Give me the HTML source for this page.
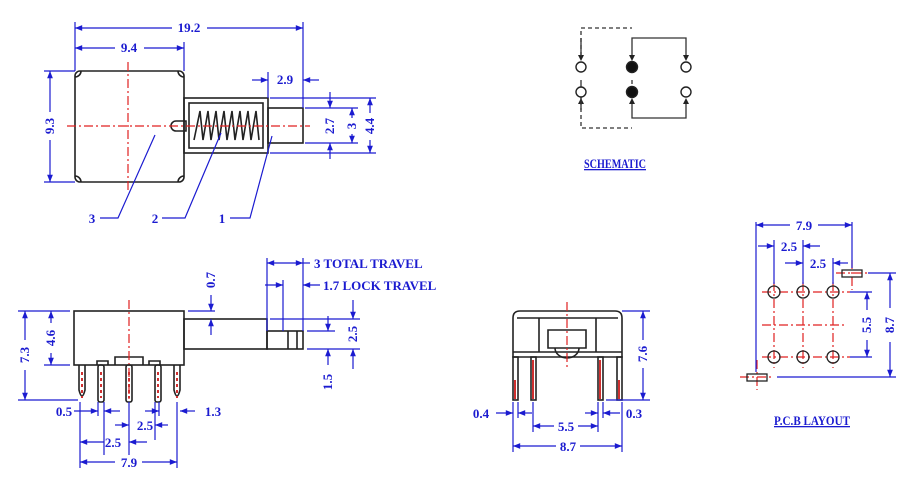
<!DOCTYPE html>
<html><head><meta charset="utf-8"><style>
body{margin:0;background:#fff}
svg{display:block}
text{font-family:"Liberation Serif",serif;font-weight:bold;fill:#1b1bd0;font-size:13px}
.b{stroke:#1b1bd0;stroke-width:1.2;fill:none}
.k{stroke:#222;stroke-width:1.6;fill:none}
.r{stroke:#e02020;stroke-width:1.2;fill:none;stroke-dasharray:9 3 2 3}
.rs{stroke:#d03030;stroke-width:2;fill:none}
</style></head><body>
<svg width="924" height="504" viewBox="0 0 924 504" xmlns="http://www.w3.org/2000/svg">
<defs>
<marker id="a" viewBox="0 0 10 10" refX="10" refY="5" markerWidth="7" markerHeight="6" orient="auto-start-reverse"><path d="M0,1 L10,5 L0,9z" fill="#1b1bd0"/></marker>
</defs>
<rect width="924" height="504" fill="#fff"/>

<!-- TOP VIEW -->
<rect x="75" y="71" width="109" height="111" rx="5" class="k"/>
<path class="k" d="M75,77 a6,6 0 0 0 6,-6 M178,71 a6,6 0 0 0 6,6 M75,176 a6,6 0 0 1 6,6 M184,176 a6,6 0 0 0 -6,6"/>
<rect x="184" y="98" width="84" height="55" class="k"/>
<rect x="189" y="103" width="74" height="45" class="k" stroke-width="1.2"/>
<rect x="268" y="108" width="35" height="35" class="k"/>
<path d="M176,121 a5,5 0 0 0 0,10 h10 v-10z" class="k" stroke-width="1.2"/>
<path class="k" stroke-width="1.4" d="M194,140 L200,111 L203,140 L208,111 L211,140 L216,111 L219,140 L224,111 L227,140 L232,111 L235,140 L240,111 L243,140 L248,111 L251,140 L256,111 L259,140"/>
<line x1="67" y1="126" x2="310" y2="126" class="r"/>
<line x1="128" y1="62" x2="128" y2="190" class="r"/>
<!-- dims -->
<line x1="75" y1="22" x2="75" y2="71" class="b"/>
<line x1="303" y1="22" x2="303" y2="108" class="b"/>
<line x1="184" y1="42" x2="184" y2="71" class="b"/>
<line x1="75" y1="28" x2="172" y2="28" class="b" marker-start="url(#a)"/>
<line x1="207" y1="28" x2="303" y2="28" class="b" marker-end="url(#a)"/>
<text x="189" y="32" text-anchor="middle">19.2</text>
<line x1="75" y1="48" x2="115" y2="48" class="b" marker-start="url(#a)"/>
<line x1="144" y1="48" x2="184" y2="48" class="b" marker-end="url(#a)"/>
<text x="129" y="52" text-anchor="middle">9.4</text>
<line x1="44" y1="71" x2="75" y2="71" class="b"/>
<line x1="44" y1="182" x2="75" y2="182" class="b"/>
<line x1="50" y1="71" x2="50" y2="112" class="b" marker-start="url(#a)"/>
<line x1="50" y1="140" x2="50" y2="182" class="b" marker-end="url(#a)"/>
<text transform="translate(54,126) rotate(-90)" text-anchor="middle">9.3</text>
<line x1="268" y1="72" x2="268" y2="98" class="b"/>
<line x1="252" y1="80" x2="268" y2="80" class="b" marker-end="url(#a)"/>
<line x1="319" y1="80" x2="303" y2="80" class="b" marker-end="url(#a)"/>
<text x="285" y="84" text-anchor="middle">2.9</text>
<line x1="270" y1="98" x2="376" y2="98" class="b"/>
<line x1="270" y1="153" x2="376" y2="153" class="b"/>
<line x1="305" y1="108" x2="358" y2="108" class="b"/>
<line x1="305" y1="143" x2="358" y2="143" class="b"/>
<line x1="330" y1="92" x2="330" y2="108" class="b" marker-end="url(#a)"/>
<line x1="330" y1="159" x2="330" y2="143" class="b" marker-end="url(#a)"/>
<text transform="translate(334,126) rotate(-90)" text-anchor="middle">2.7</text>
<line x1="352" y1="118" x2="352" y2="108" class="b" marker-end="url(#a)"/>
<line x1="352" y1="134" x2="352" y2="143" class="b" marker-end="url(#a)"/>
<text transform="translate(356,126) rotate(-90)" text-anchor="middle">3</text>
<line x1="370" y1="113" x2="370" y2="98" class="b" marker-end="url(#a)"/>
<line x1="370" y1="140" x2="370" y2="153" class="b" marker-end="url(#a)"/>
<text transform="translate(374,126) rotate(-90)" text-anchor="middle">4.4</text>
<!-- leaders -->
<path class="b" d="M155,135 L118,218 H100"/>
<path class="b" d="M221,133 L185,218 H162"/>
<path class="b" d="M272,136 L250,218 H230"/>
<text x="92" y="223" text-anchor="middle">3</text>
<text x="155" y="223" text-anchor="middle">2</text>
<text x="222" y="223" text-anchor="middle">1</text>

<!-- SCHEMATIC -->
<path d="M581,56 V28 H632 M581,80 V128 H632" stroke="#333" stroke-width="1.3" fill="none" stroke-dasharray="4 3"/>
<path d="M632,56 V38 H686 V56 M632,103 V118 H686 V103" stroke="#333" stroke-width="1.3" fill="none"/>
<path d="M581,84 V103 M632,84 V80" stroke="#333" stroke-width="1.3"/>
<g stroke="#222" stroke-width="1.4" fill="#fff">
<circle cx="581" cy="67" r="5"/><circle cx="686" cy="67" r="5"/>
<circle cx="581" cy="92" r="5"/><circle cx="686" cy="92" r="5"/>
<circle cx="632" cy="67" r="5.5" fill="#111"/><circle cx="632" cy="92" r="5.5" fill="#111"/>
</g>
<g fill="#222"><path d="M578,55 h6 l-3,6z M629,55 h6 l-3,6z M683,55 h6 l-3,6z M578,104 h6 l-3,-6z M629,104 h6 l-3,-6z M683,104 h6 l-3,-6z"/></g>
<path d="M581,38 V56 M581,97 V110" stroke="#333" stroke-width="1.3"/>
<text x="615" y="168" text-anchor="middle" font-size="11" text-decoration="underline" textLength="62" lengthAdjust="spacingAndGlyphs">SCHEMATIC</text>

<!-- SIDE VIEW -->
<rect x="74" y="311" width="110" height="54" class="k"/>
<rect x="184" y="319" width="83" height="30" class="k"/>
<rect x="267" y="331" width="36" height="18" class="k"/>
<path class="k" stroke-width="1.2" d="M288,331 V349 M297,331 V349"/>
<path class="k" stroke-width="1.3" d="M97,365 V361 H108 V365 M115,365 V357 H143 V365 M149,365 V361 H160 V365"/>
<line x1="129" y1="300" x2="129" y2="400" class="r"/>
<g class="k" stroke-width="1.3">
<path d="M79,365 V390 Q82,402 85,390 V365"/>
<path d="M174,365 V390 Q177,402 180,390 V365"/>
<rect x="98" y="365" width="6" height="37" rx="2"/>
<rect x="126" y="365" width="6" height="37" rx="2"/>
<rect x="155" y="365" width="6" height="37" rx="2"/>
</g>
<path class="rs" d="M82,372 V398 M101,372 V398 M129,372 V398 M158,372 V398 M177,372 V398" stroke-dasharray="3 3"/>
<line x1="18" y1="311" x2="70" y2="311" class="b"/>
<line x1="18" y1="400" x2="78" y2="400" class="b"/>
<line x1="44" y1="365" x2="70" y2="365" class="b"/>
<line x1="25" y1="311" x2="25" y2="340" class="b" marker-start="url(#a)"/>
<line x1="25" y1="370" x2="25" y2="400" class="b" marker-end="url(#a)"/>
<text transform="translate(29,355) rotate(-90)" text-anchor="middle">7.3</text>
<line x1="51" y1="311" x2="51" y2="323" class="b" marker-start="url(#a)"/>
<line x1="51" y1="353" x2="51" y2="365" class="b" marker-end="url(#a)"/>
<text transform="translate(55,338) rotate(-90)" text-anchor="middle">4.6</text>
<line x1="188" y1="311" x2="215" y2="311" class="b"/>
<line x1="211" y1="295" x2="211" y2="311" class="b" marker-end="url(#a)"/>
<line x1="211" y1="335" x2="211" y2="319" class="b" marker-end="url(#a)"/>
<text transform="translate(215,280) rotate(-90)" text-anchor="middle">0.7</text>
<line x1="267" y1="258" x2="267" y2="331" class="b"/>
<line x1="303" y1="258" x2="303" y2="331" class="b"/>
<line x1="283" y1="280" x2="283" y2="331" class="b"/>
<line x1="267" y1="263" x2="303" y2="263" class="b" marker-start="url(#a)" marker-end="url(#a)"/>
<line x1="303" y1="263" x2="310" y2="263" class="b"/>
<text x="314" y="268">3  TOTAL  TRAVEL</text>
<line x1="265" y1="285" x2="283" y2="285" class="b" marker-end="url(#a)"/>
<line x1="320" y1="285" x2="303" y2="285" class="b" marker-end="url(#a)"/>
<text x="323" y="290">1.7  LOCK  TRAVEL</text>
<line x1="270" y1="319" x2="360" y2="319" class="b"/>
<line x1="307" y1="331" x2="335" y2="331" class="b"/>
<line x1="307" y1="349" x2="360" y2="349" class="b"/>
<line x1="353" y1="300" x2="353" y2="319" class="b" marker-end="url(#a)"/>
<line x1="353" y1="369" x2="353" y2="349" class="b" marker-end="url(#a)"/>
<text transform="translate(357,334) rotate(-90)" text-anchor="middle">2.5</text>
<line x1="328" y1="316" x2="328" y2="331" class="b" marker-end="url(#a)"/>
<line x1="328" y1="365" x2="328" y2="349" class="b" marker-end="url(#a)"/>
<text transform="translate(332,382) rotate(-90)" text-anchor="middle">1.5</text>
<path class="b" d="M80,402 V468 M98,402 V416 M104,402 V455 M129,402 V455 M155,402 V440 M159,402 V416 M177,402 V468"/>
<line x1="74" y1="411" x2="98" y2="411" class="b" marker-end="url(#a)"/>
<line x1="120" y1="411" x2="104" y2="411" class="b" marker-end="url(#a)"/>
<text x="64" y="416" text-anchor="middle">0.5</text>
<line x1="145" y1="411" x2="159" y2="411" class="b" marker-end="url(#a)"/>
<line x1="195" y1="411" x2="180" y2="411" class="b" marker-end="url(#a)"/>
<text x="213" y="416" text-anchor="middle">1.3</text>
<line x1="115" y1="425" x2="129" y2="425" class="b" marker-end="url(#a)"/>
<line x1="168" y1="425" x2="155" y2="425" class="b" marker-end="url(#a)"/>
<text x="145" y="430" text-anchor="middle">2.5</text>
<line x1="80" y1="442" x2="104" y2="442" class="b" marker-start="url(#a)"/>
<line x1="129" y1="442" x2="147" y2="442" class="b" marker-start="url(#a)"/>
<text x="113" y="447" text-anchor="middle">2.5</text>
<line x1="80" y1="462" x2="115" y2="462" class="b" marker-start="url(#a)"/>
<line x1="142" y1="462" x2="177" y2="462" class="b" marker-end="url(#a)"/>
<text x="129" y="467" text-anchor="middle">7.9</text>

<!-- FRONT VIEW -->
<path class="k" d="M513,357 V318 Q513,311 520,311 H615 Q622,311 622,318 V357 Z"/>
<line x1="513" y1="352" x2="622" y2="352" class="k" stroke-width="1.2"/>
<path class="k" stroke-width="1.2" d="M517,318 H618 M539,318 V352 M596,318 V352 M548,330 H586 V348 H548Z M555,348 a12,10 0 0 0 24,0"/>
<line x1="567" y1="302" x2="567" y2="368" class="r"/>
<g class="k" stroke-width="1.2">
<rect x="513" y="357" width="5" height="43"/><rect x="617" y="357" width="5" height="43"/>
<rect x="531" y="357" width="5" height="43"/><rect x="598" y="357" width="5" height="43"/>
</g>
<path class="rs" d="M533,360 V399 M600,360 V399 M515,380 V399 M619,380 V399"/>
<line x1="622" y1="311" x2="650" y2="311" class="b"/>
<line x1="606" y1="400" x2="650" y2="400" class="b"/>
<line x1="643" y1="311" x2="643" y2="340" class="b" marker-start="url(#a)"/>
<line x1="643" y1="368" x2="643" y2="400" class="b" marker-end="url(#a)"/>
<text transform="translate(647,354) rotate(-90)" text-anchor="middle">7.6</text>
<path class="b" d="M513,402 V452 M518,402 V418 M533,402 V432 M598,402 V432 M603,402 V418 M622,402 V452"/>
<line x1="496" y1="413" x2="513" y2="413" class="b" marker-end="url(#a)"/>
<line x1="532" y1="413" x2="518" y2="413" class="b" marker-end="url(#a)"/>
<text x="481" y="418" text-anchor="middle">0.4</text>
<line x1="585" y1="413" x2="598" y2="413" class="b" marker-end="url(#a)"/>
<line x1="620" y1="413" x2="603" y2="413" class="b" marker-end="url(#a)"/>
<text x="634" y="418" text-anchor="middle">0.3</text>
<line x1="533" y1="426" x2="554" y2="426" class="b" marker-start="url(#a)"/>
<line x1="578" y1="426" x2="598" y2="426" class="b" marker-end="url(#a)"/>
<text x="566" y="431" text-anchor="middle">5.5</text>
<line x1="513" y1="446" x2="556" y2="446" class="b" marker-start="url(#a)"/>
<line x1="580" y1="446" x2="622" y2="446" class="b" marker-end="url(#a)"/>
<text x="568" y="451" text-anchor="middle">8.7</text>

<!-- PCB -->
<g class="r">
<line x1="762" y1="292" x2="850" y2="292"/><line x1="762" y1="325" x2="847" y2="325"/><line x1="762" y1="357" x2="850" y2="357"/>
<line x1="774" y1="282" x2="774" y2="368"/><line x1="803" y1="282" x2="803" y2="368"/><line x1="833" y1="282" x2="833" y2="368"/>
<line x1="852" y1="260" x2="852" y2="290"/><line x1="836" y1="273" x2="870" y2="273"/>
<line x1="757" y1="360" x2="757" y2="390"/><line x1="740" y1="377" x2="774" y2="377"/>
</g>
<g stroke="#222" stroke-width="1.3" fill="none">
<circle cx="774" cy="292" r="6"/><circle cx="803" cy="292" r="6"/><circle cx="833" cy="292" r="6"/>
<circle cx="774" cy="357" r="6"/><circle cx="803" cy="357" r="6"/><circle cx="833" cy="357" r="6"/>
<rect x="842" y="270" width="20" height="7"/><rect x="747" y="374" width="20" height="7"/>
</g>
<path class="b" d="M756,222 V372 M852,222 V268 M774,240 V284 M803,240 V284 M833,258 V284"/>
<line x1="756" y1="225" x2="790" y2="225" class="b" marker-start="url(#a)"/>
<line x1="818" y1="225" x2="852" y2="225" class="b" marker-end="url(#a)"/>
<text x="804" y="230" text-anchor="middle">7.9</text>
<line x1="758" y1="246" x2="774" y2="246" class="b" marker-end="url(#a)"/>
<line x1="820" y1="246" x2="803" y2="246" class="b" marker-end="url(#a)"/>
<text x="789" y="251" text-anchor="middle">2.5</text>
<line x1="785" y1="263" x2="803" y2="263" class="b" marker-end="url(#a)"/>
<line x1="848" y1="263" x2="833" y2="263" class="b" marker-end="url(#a)"/>
<text x="818" y="268" text-anchor="middle">2.5</text>
<line x1="868" y1="273" x2="896" y2="273" class="b"/>
<line x1="777" y1="377" x2="896" y2="377" class="b"/>
<line x1="850" y1="292" x2="872" y2="292" class="b"/>
<line x1="850" y1="357" x2="872" y2="357" class="b"/>
<line x1="867" y1="310" x2="867" y2="292" class="b" marker-end="url(#a)"/>
<line x1="867" y1="340" x2="867" y2="357" class="b" marker-end="url(#a)"/>
<text transform="translate(871,325) rotate(-90)" text-anchor="middle">5.5</text>
<line x1="890" y1="273" x2="890" y2="308" class="b" marker-start="url(#a)"/>
<line x1="890" y1="342" x2="890" y2="377" class="b" marker-end="url(#a)"/>
<text transform="translate(894,325) rotate(-90)" text-anchor="middle">8.7</text>
<text x="812" y="425" text-anchor="middle" font-size="11" text-decoration="underline" textLength="76" lengthAdjust="spacingAndGlyphs">P.C.B  LAYOUT</text>
</svg>
</body></html>
